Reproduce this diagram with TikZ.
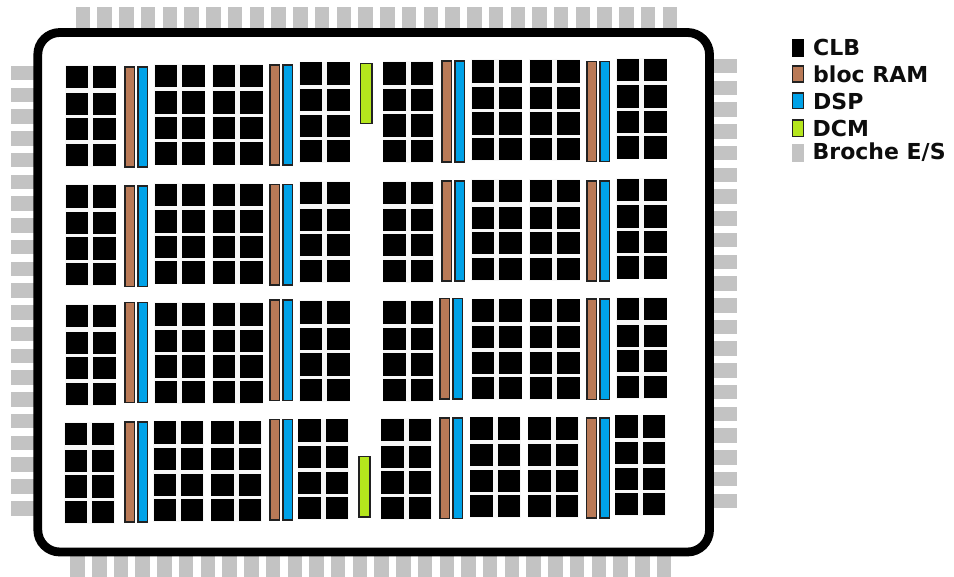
\documentclass[tikz,border=0pt]{standalone}
\usepackage{fontspec}
\setmainfont{DejaVu Sans}
\definecolor{ramc}{HTML}{B97A57}
\definecolor{dspc}{HTML}{00A2E8}
\definecolor{dcmc}{HTML}{B5E61D}
\definecolor{pinc}{HTML}{C3C3C3}
\definecolor{barline}{HTML}{222222}
\tikzset{
  clbhalo/.style={fill=black!3},
  clbcell/.style={fill=black},
  rambar/.style={fill=ramc,draw=barline,line width=1.4pt},
  dspbar/.style={fill=dspc,draw=barline,line width=1.4pt},
  dcmbar/.style={fill=dcmc,draw=barline,line width=1.4pt},
  pinbox/.style={fill=pinc,draw=none},
  chipframe/.style={draw=black,line width=8.8pt,rounded corners=22pt,fill=white},
  legendtext/.style={anchor=west,inner sep=0pt,font=\fontsize{22}{24}\selectfont\bfseries,text=black!95}
}
% 2 x 4 group of CLB cells; #1 = left, #2 = top
\newcommand{\clbgroup}[2]{%
  \path[clbhalo] ({#1-0.8},{#2-0.8}) rectangle ({#1+50.4},{#2+100.6});
  \foreach \cx in {0,27.3}{\foreach \cy in {0,26.6,52.2,77.6}{
    \path[clbcell] ({#1+\cx},{#2+\cy}) rectangle +(22.3,22.3);}}}
% RAM + DSP pair; #1 = RAM left, #2 = DSP left, #3 = top, #4 = bottom
\newcommand{\rampair}[4]{%
  \path[rambar] (#1,#3) rectangle (#1+9.5,#4);
  \path[dspbar] (#2,#3) rectangle (#2+9.5,#4);}
\begin{document}
\begin{tikzpicture}[x=1pt,y=-1pt]
\useasboundingbox (0,0) rectangle (954,577);
% pins
\foreach \i in {0,...,27}{
  \path[pinbox] ({75.7+21.74*\i},7) rectangle +(14.5,22);
  \path[pinbox] ({70.3+21.72*\i},555) rectangle +(14.5,22);}
\foreach \i in {0,...,20}{
  \path[pinbox] (10.5,{66+21.75*\i}) rectangle +(24,14.5);
  \path[pinbox] (712,{59+21.73*\i}) rectangle +(24.5,14.5);}
% package outline
\path[chipframe] (37.8,32.5) rectangle (709.5,552);
% row 1
\clbgroup{66}{66}
\rampair{125}{138}{67}{167}
\clbgroup{155}{64.7}
\clbgroup{213}{64.7}
\rampair{270}{283}{65}{165}
\clbgroup{300}{62.5}
\clbgroup{383.3}{62.3}
\rampair{442}{455}{61}{162}
\clbgroup{472}{60.3}
\clbgroup{530}{60.3}
\rampair{587}{600}{61.5}{161.5}
\clbgroup{617}{58.7}
% row 2
\clbgroup{66}{185.3}
\rampair{125}{138}{186}{286.7}
\clbgroup{155}{183.7}
\clbgroup{213}{183.7}
\rampair{270}{283}{184.5}{285}
\clbgroup{300}{182}
\clbgroup{383.3}{182}
\rampair{442}{455}{181}{281}
\clbgroup{472}{180}
\clbgroup{530}{180}
\rampair{587}{600}{181}{281}
\clbgroup{617}{178.7}
% row 3
\clbgroup{66}{305}
\rampair{125}{138}{302.5}{402.7}
\clbgroup{155}{303.3}
\clbgroup{213}{303.3}
\rampair{270}{283}{300}{400.5}
\clbgroup{300}{301.3}
\clbgroup{383.3}{301.3}
\rampair{440}{453}{298.5}{399}
\clbgroup{472}{299.5}
\clbgroup{530}{299.5}
\rampair{587}{600}{299}{399.5}
\clbgroup{617}{298}
% row 4
\clbgroup{64.5}{423}
\rampair{125}{138}{422}{522}
\clbgroup{153.5}{421.5}
\clbgroup{211.3}{421.5}
\rampair{270}{283}{419.5}{520}
\clbgroup{298.3}{419.5}
\clbgroup{381.3}{419}
\rampair{440}{453}{418}{518.5}
\clbgroup{470.3}{417.5}
\clbgroup{528.3}{417.5}
\rampair{586.7}{600}{418}{518}
\clbgroup{615.3}{415.5}
% DCM
\path[dcmbar] (360.5,63.3) rectangle (372,123.5);
\path[dcmbar] (358.8,456.3) rectangle (370,517);
% legend
\path[fill=black] (791.7,39.5) rectangle (804,57);
\path[rambar] (792.3,66) rectangle (803.7,82);
\path[dspbar] (792.3,93) rectangle (803.7,108.5);
\path[dcmbar] (792.3,120) rectangle (803.7,136.5);
\path[pinbox] (791.5,144) rectangle (804,162);
\node[legendtext] (lclb) at (813,47) {CLB};
\node[legendtext] (lram) at (813,74) {bloc RAM};
\node[legendtext] (ldsp) at (813,101) {DSP};
\node[legendtext] (ldcm) at (812.5,128) {DCM};
\node[legendtext] (lio) at (812.5,152.5) {Broche E/S};
\end{tikzpicture}
\end{document}
